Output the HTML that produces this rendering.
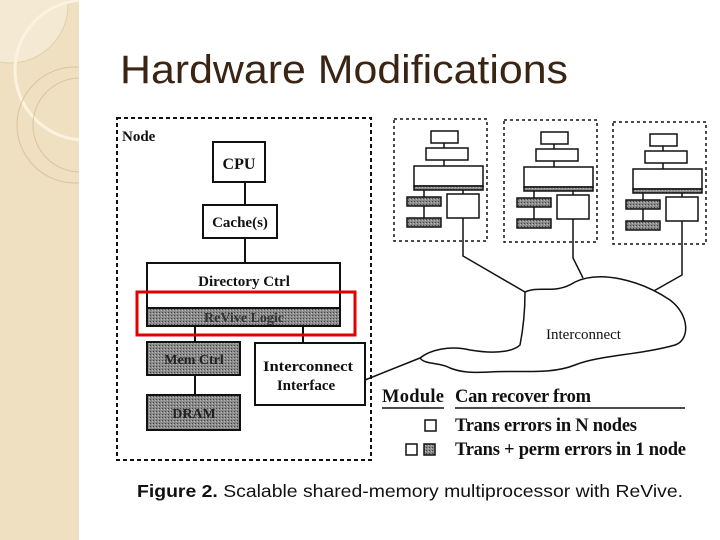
<!DOCTYPE html>
<html><head><style>
body{margin:0;width:720px;height:540px;overflow:hidden;background:#fff;}
</style></head><body>
<svg width="720" height="540" xmlns="http://www.w3.org/2000/svg" style="position:absolute;left:0;top:0">
<defs>
<pattern id="g" width="3" height="3" patternUnits="userSpaceOnUse"><rect width="3" height="3" fill="#8a8a8a"/><rect width="1" height="1" fill="#444"/><rect x="2" y="1" width="1" height="1" fill="#bbb"/></pattern>
<clipPath id="c"><rect x="0" y="0" width="79" height="540"/></clipPath>
</defs>
<rect x="0" y="0" width="79" height="540" fill="#efe0c2"/>
<g clip-path="url(#c)">
<circle cx="10" cy="5" r="58" fill="#f4ead4" stroke="#e2cfa8" stroke-width="1"/>
<circle cx="85" cy="70" r="70" fill="none" stroke="#fbf3df" stroke-width="3"/>
<circle cx="75" cy="125" r="58" fill="none" stroke="#d8c49c" stroke-width="1"/>
<circle cx="80" cy="125" r="47" fill="none" stroke="#d8c49c" stroke-width="1"/>
</g>
<text x="120" y="83" font-family="Liberation Sans, sans-serif" font-size="40" fill="#3a2414" textLength="448" lengthAdjust="spacingAndGlyphs">Hardware Modifications</text>

<g font-family="Liberation Serif, serif" font-weight="bold" fill="#111" stroke="#111">
<rect x="117" y="118" width="254" height="342" fill="none" stroke-width="2" stroke-dasharray="4,3"/>
<text x="122" y="141" font-size="15" stroke="none">Node</text>
<g stroke-width="2">
<line x1="245" y1="182" x2="245" y2="205"/><line x1="245" y1="238" x2="245" y2="263"/>
<line x1="195" y1="326" x2="195" y2="430"/><line x1="303" y1="326" x2="303" y2="343"/>
<rect x="213" y="142" width="52" height="40" fill="#fff"/>
<rect x="203" y="205" width="74" height="33" fill="#fff"/>
<rect x="147" y="263" width="193" height="63" fill="#fff"/>
<rect x="147" y="308" width="193" height="18" fill="url(#g)"/>
<rect x="147" y="342" width="93" height="33" fill="url(#g)"/>
<rect x="147" y="395" width="93" height="35" fill="url(#g)"/>
<rect x="255" y="343" width="110" height="62" fill="#fff"/>
</g>
<g stroke="none" font-size="15" text-anchor="middle">
<text x="239" y="169" font-size="16">CPU</text>
<text x="240" y="227">Cache(s)</text>
<text x="244" y="286">Directory Ctrl</text>
<text x="244" y="322" font-size="14" fill="#333">ReVive Logic</text>
<text x="194" y="364" font-size="14" fill="#222">Mem Ctrl</text>
<text x="194" y="418" font-size="14" fill="#222">DRAM</text>
<text x="308" y="371" textLength="90" lengthAdjust="spacingAndGlyphs">Interconnect</text>
<text x="306" y="390">Interface</text>
</g>
<rect x="137" y="292" width="218" height="43" fill="none" stroke="#e00000" stroke-width="3"/>

<g id="n" stroke-width="1.5">
<rect x="394" y="119" width="93" height="122" fill="none" stroke-dasharray="3,3"/>
<line x1="444" y1="143" x2="444" y2="166"/><line x1="424" y1="190" x2="424" y2="222"/><line x1="463" y1="190" x2="463" y2="194"/>
<rect x="431" y="131" width="27" height="12" fill="#fff"/>
<rect x="426" y="148" width="42" height="12" fill="#fff"/>
<rect x="414" y="166" width="69" height="20" fill="#fff"/>
<rect x="414" y="186" width="69" height="4" fill="url(#g)"/>
<rect x="407" y="197" width="34" height="9" fill="url(#g)"/>
<rect x="407" y="218" width="34" height="9" fill="url(#g)"/>
<rect x="447" y="194" width="32" height="24" fill="#fff"/>
</g>
<use href="#n" x="110" y="1"/>
<use href="#n" x="219" y="3"/>
<g fill="none" stroke-width="1.5">
<polyline points="463,218 463,256 525,292"/>
<polyline points="573,219 573,258 583,278"/>
<polyline points="682,221 682,275 652,292"/>
<polyline points="365,380 420,358"/>
<path d="M420,358 C430,350 450,345 470,350 C500,355 515,350 520,345 C525,320 525,300 525,292 C540,285 555,295 575,282 C600,270 640,280 670,300 C690,315 690,340 675,345 C640,355 600,355 575,365 C550,375 520,370 490,372 C470,373 460,372 450,368 C440,362 425,365 420,358 Z" fill="#fff"/>
</g>
<text x="546" y="339" font-size="15" stroke="none" font-weight="normal" fill="#111">Interconnect</text>

<g stroke="none" font-size="18.5" lengthAdjust="spacingAndGlyphs">
<text x="382" y="402" textLength="62">Module</text>
<text x="455" y="402" textLength="136">Can recover from</text>
<text x="455" y="431" textLength="182">Trans errors in N nodes</text>
<text x="455" y="455" textLength="231">Trans + perm errors in 1 node</text>
</g>
<line x1="382" y1="408" x2="444" y2="408" stroke-width="1.5"/>
<line x1="455" y1="408" x2="685" y2="408" stroke-width="1.5"/>
<rect x="425" y="420" width="11" height="11" fill="#fff" stroke-width="1.5"/>
<rect x="406" y="444" width="11" height="11" fill="#fff" stroke-width="1.5"/>
<rect x="424" y="444" width="11" height="11" fill="url(#g)" stroke-width="1.5"/>
</g>
<text x="137" y="497" font-family="Liberation Sans, sans-serif" font-size="17.5" fill="#111" textLength="546" lengthAdjust="spacingAndGlyphs"><tspan font-weight="bold">Figure 2.</tspan> Scalable shared-memory multiprocessor with ReVive.</text>
</svg>
</body></html>
